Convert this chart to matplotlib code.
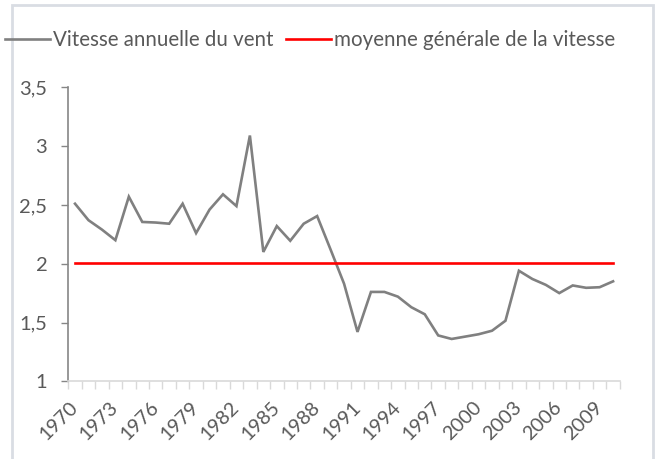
import matplotlib
matplotlib.use("Agg")
import matplotlib.pyplot as plt
from matplotlib.ticker import FixedLocator, FuncFormatter
from matplotlib.patches import Rectangle
from matplotlib.transforms import ScaledTranslation
import numpy as np

years = list(range(1970, 2011))
vitesse = [2.51, 2.37, 2.29, 2.20, 2.57, 2.355, 2.35, 2.34, 2.51, 2.26,
           2.46, 2.59, 2.49, 3.09, 2.10, 2.32, 2.195, 2.34, 2.405, 2.12,
           1.83, 1.42, 1.76, 1.76, 1.72, 1.63, 1.57, 1.39, 1.36, 1.38,
           1.40, 1.43, 1.515, 1.94, 1.87, 1.82, 1.75, 1.815, 1.795, 1.80,
           1.85]
moyenne = 2.01
label_years = years[::3]
serie1 = "Vitesse annuelle du vent"
serie2 = "moyenne générale de la vitesse"

plt.rcParams['font.family'] = ['Lato', 'DejaVu Sans']
W, H = 661, 459
fig = plt.figure(figsize=(W / 100, H / 100), dpi=100)
ax = fig.add_axes([68.3 / W, 1 - 381.3 / H, (619.8 - 68.3) / W, (381.3 - 87.3) / H])

x = np.arange(len(years))
l1, = ax.plot(x, vitesse, color='#808080', lw=1.9, solid_joinstyle='miter')
l2, = ax.plot(x, [moyenne] * len(years), color='#FF0000', lw=1.9)

ax.set_xlim(-0.5, len(years) - 0.5)
ax.set_ylim(1, 3.5)
ax.set_yticks([1, 1.5, 2, 2.5, 3, 3.5])
ax.yaxis.set_major_formatter(FuncFormatter(lambda v, p: f"{v:g}".replace('.', ',')))

ax.xaxis.set_major_locator(FixedLocator([years.index(y) for y in label_years]))
ax.set_xticklabels([str(y) for y in label_years], rotation=45, ha='right',
                   va='top', rotation_mode='anchor')
ax.xaxis.set_minor_locator(FixedLocator(np.arange(-0.5, len(years), 1.0)))
ax.tick_params(axis='x', which='major', length=0, pad=12.5, labelsize=14.3, labelcolor='#595959')
ax.tick_params(axis='x', which='minor', length=6, width=1, color='#D9D9D9')
ax.tick_params(axis='y', length=4.75, width=1, color='#868686', labelsize=14.5,
               labelcolor='#595959', pad=10.4)
shift = ScaledTranslation(-6 / 100, 0, fig.dpi_scale_trans)
for lab in ax.get_xticklabels():
    lab.set_transform(lab.get_transform() + shift)

for s in ['top', 'right']:
    ax.spines[s].set_visible(False)
ax.spines['left'].set_color('#868686')
ax.spines['left'].set_linewidth(1.2)
ax.spines['bottom'].set_color('#D9D9D9')
ax.spines['bottom'].set_linewidth(1.2)

fig.legend([l1, l2], [serie1, serie2], loc='center left',
           bbox_to_anchor=(5 / W, 1 - 40 / H), ncol=2, frameon=False,
           fontsize=14.8, labelcolor='#595959', handlelength=2.2,
           handletextpad=0.15, columnspacing=0.6, borderpad=0, borderaxespad=0)

fig.patches.append(Rectangle((12 / W, -0.05), (653 - 12) / W, 1.05 - 5 / H,
                             transform=fig.transFigure, fill=False,
                             edgecolor='#D9DDE3', lw=2))

fig.savefig('out.png', dpi=100)
